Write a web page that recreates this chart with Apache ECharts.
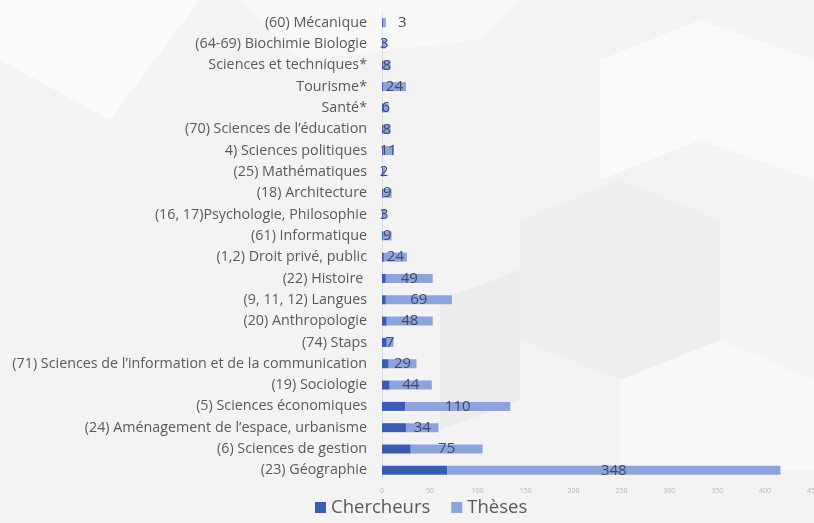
<!DOCTYPE html>
<html>
<head>
<meta charset="utf-8">
<script src="https://cdn.jsdelivr.net/npm/echarts@6/dist/echarts.min.js"></script>
<style>html,body{margin:0;padding:0;background:#f3f3f3}#c{width:814px;height:523px}</style>
</head>
<body>
<div id="c"></div>
<script>
const categories = [
  "(60) Mécanique", "(64-69) Biochimie Biologie", "Sciences et techniques*", "Tourisme*", "Santé*",
  "(70) Sciences de l’éducation", "4) Sciences politiques", "(25) Mathématiques", "(18) Architecture",
  "(16, 17)Psychologie, Philosophie", "(61) Informatique", "(1,2) Droit privé, public", "(22) Histoire ",
  "(9, 11, 12) Langues", "(20) Anthropologie", "(74) Staps",
  "(71) Sciences de l’information et de la communication", "(19) Sociologie", "(5) Sciences économiques",
  "(24) Aménagement de l’espace, urbanisme", "(6) Sciences de gestion", "(23) Géographie"
];
const chercheurs = [1, 1, 1, 1, 1, 1, 1, 1, 1, 1, 1, 2, 4, 4, 5, 5, 7, 8, 24, 25, 30, 68];
const theses =     [3, 3, 8, 24, 6, 8, 11, 2, 9, 3, 9, 24, 49, 69, 48, 7, 29, 44, 110, 34, 75, 348];
const xTicks = { min: 0, max: 450, interval: 50 };

const chart = echarts.init(document.getElementById('c'), null, { renderer: 'canvas' });
const font = '"Open Sans", Lato, sans-serif';

const thesesData = theses.map((v, i) => i === 0
  ? { value: v, label: { offset: [18, 0] } }
  : v);

chart.setOption({
  backgroundColor: '#f3f3f3',
  animation: false,
  graphic: [
    { type: 'polygon', silent: true, z: -10, shape: { points: [[0,0],[200,0],[110,120],[0,60]] }, style: { fill: '#fafafa' } },
    { type: 'polygon', silent: true, z: -10, shape: { points: [[240,0],[520,0],[480,40],[300,60]] }, style: { fill: '#f8f8f8' } },
    { type: 'polygon', silent: true, z: -10, shape: { points: [[600,60],[700,20],[814,60],[814,180],[700,140],[600,180]] }, style: { fill: '#f9f9f9' } },
    { type: 'polygon', silent: true, z: -10, shape: { points: [[520,220],[620,180],[720,220],[720,340],[620,380],[520,340]] }, style: { fill: '#eeeeee' } },
    { type: 'polygon', silent: true, z: -10, shape: { points: [[620,380],[720,340],[814,380],[814,470],[620,470]] }, style: { fill: '#f8f8f8' } },
    { type: 'polygon', silent: true, z: -10, shape: { points: [[440,300],[520,270],[520,400],[440,430]] }, style: { fill: '#ececec' } }
  ],
  legend: {
    data: ['Chercheurs', 'Thèses'],
    left: 310,
    bottom: 1,
    itemWidth: 11,
    itemHeight: 11,
    itemGap: 21,
    icon: 'rect',
    textStyle: { fontSize: 18.5, color: '#595959', fontFamily: font }
  },
  grid: { left: 382, right: 1, top: 12, bottom: 42, containLabel: false, outerBoundsMode: 'none' },
  xAxis: {
    type: 'value',
    min: xTicks.min, max: xTicks.max, interval: xTicks.interval,
    axisLine: { show: false },
    axisTick: { show: false },
    splitLine: { show: false },
    axisLabel: { fontSize: 7, color: '#b5b5b5', margin: 6, fontFamily: font }
  },
  yAxis: {
    type: 'category',
    inverse: true,
    data: categories,
    axisLine: { show: true, lineStyle: { color: '#dedede' } },
    axisTick: { show: false },
    axisLabel: { fontSize: 14.3, color: '#595959', margin: 15, fontFamily: font }
  },
  series: [
    {
      name: 'Chercheurs', type: 'bar', stack: 't', data: chercheurs,
      barWidth: 9,
      itemStyle: { color: '#3a5cb0' }
    },
    {
      name: 'Thèses', type: 'bar', stack: 't', data: thesesData,
      barWidth: 9,
      itemStyle: { color: '#8da3dc' },
      label: {
        show: true, position: 'inside', fontSize: 15, color: '#3f4a62', fontFamily: font
      }
    }
  ]
});
</script>
</body>
</html>
